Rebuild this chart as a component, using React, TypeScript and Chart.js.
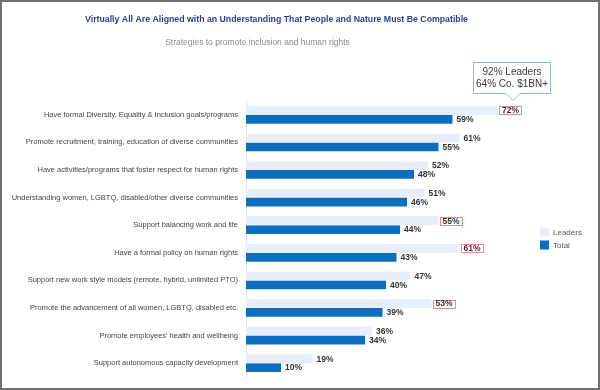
import React, { useEffect, useRef } from "react";
import { Chart, registerables } from "chart.js";

Chart.register(...registerables);

const categories = [
  "Have formal Diversity, Equality & Inclusion goals/programs",
  "Promote recruitment, training, education of diverse communities",
  "Have activities/programs that foster respect for human rights",
  "Understanding women, LGBTQ, disabled/other diverse communities",
  "Support balancing work and life",
  "Have a formal policy on human rights",
  "Support new work style models (remote, hybrid, unlimited PTO)",
  "Promote the advancement of all women, LGBTQ, disabled etc.",
  "Promote employees' health and wellbeing",
  "Support autonomous capacity development",
];
const leaders = [72, 61, 52, 51, 55, 61, 47, 53, 36, 19];
const total = [59, 55, 48, 46, 44, 43, 40, 39, 34, 10];
const highlighted = [true, false, false, false, true, true, false, true, false, false];
const seriesNames = ["Leaders", "Total"];
const titleText = "Virtually All Are Aligned with an Understanding That People and Nature Must Be Compatible";
const subtitleText = "Strategies to promote inclusion and human rights";
const calloutLines = ["92% Leaders", "64% Co. $1BN+"];

const FONT = "'Liberation Sans', Arial, Helvetica, sans-serif";
const LEADERS_COLOR = "#e7eef9";
const TOTAL_COLOR = "#0d6ebe";

const decorPlugin = {
  id: "decor",
  beforeDraw(chart: any) {
    const ctx = chart.ctx;
    ctx.save();
    ctx.fillStyle = "#ffffff";
    ctx.fillRect(0, 0, chart.width, chart.height);
    ctx.restore();
  },
  afterDatasetsDraw(chart: any) {
    const ctx = chart.ctx;
    ctx.save();
    ctx.textBaseline = "middle";
    ctx.textAlign = "left";
    ctx.font = `bold 8.5px ${FONT}`;
    chart.data.datasets.forEach((ds: any, di: number) => {
      const meta = chart.getDatasetMeta(di);
      meta.data.forEach((el: any, i: number) => {
        const txt = ds.data[i] + "%";
        const tx = el.x + 4;
        const ty = el.y + 0.5;
        if (di === 0 && highlighted[i]) {
          const w = ctx.measureText(txt).width;
          ctx.fillStyle = "#ffffff";
          ctx.fillRect(el.x + 1, el.y - 4, w + 6, 9);
          ctx.strokeStyle = "#e48a8a";
          ctx.lineWidth = 1;
          ctx.strokeRect(Math.round(el.x + 1) + 0.5, Math.round(el.y - 4) + 0.5, Math.round(w + 5), 8);
        }
        ctx.fillStyle = "#333333";
        ctx.fillText(txt, tx, ty);
      });
    });
    ctx.restore();
  },
  afterDraw(chart: any) {
    const ctx = chart.ctx;
    ctx.save();
    // frame
    ctx.strokeStyle = "#707070";
    ctx.lineWidth = 2;
    ctx.strokeRect(1, 1, chart.width - 2, chart.height - 2);
    // title
    ctx.textAlign = "center";
    ctx.textBaseline = "middle";
    ctx.fillStyle = "#2f3f8c";
    ctx.font = `bold 8.75px ${FONT}`;
    ctx.fillText(titleText, 276.5, 20);
    ctx.fillStyle = "#8a8a8a";
    ctx.font = `8.5px ${FONT}`;
    ctx.fillText(subtitleText, 257.5, 43);
    // callout
    const l = 473.5, r = 550.5, t = 62.5, b = 93.5, px = 513;
    ctx.beginPath();
    ctx.moveTo(l, t);
    ctx.lineTo(r, t);
    ctx.lineTo(r, b);
    ctx.lineTo(px + 7, b);
    ctx.lineTo(px, b + 7);
    ctx.lineTo(px - 7, b);
    ctx.lineTo(l, b);
    ctx.closePath();
    ctx.fillStyle = "#ffffff";
    ctx.fill();
    ctx.strokeStyle = "#8dbadc";
    ctx.lineWidth = 1;
    ctx.stroke();
    ctx.fillStyle = "#3a3a3a";
    ctx.font = `10px ${FONT}`;
    ctx.fillText(calloutLines[0], 512, 72.5);
    ctx.fillText(calloutLines[1], 512, 84);
    // legend
    const colors = [LEADERS_COLOR, TOTAL_COLOR];
    const ys = [232, 245];
    ctx.textAlign = "left";
    ctx.font = `8px ${FONT}`;
    seriesNames.forEach((name, i) => {
      ctx.fillStyle = colors[i];
      ctx.fillRect(540, ys[i] - 4.5, 9, 9);
      ctx.fillStyle = "#555555";
      ctx.fillText(name, 553, ys[i] + 0.5);
    });
    ctx.restore();
  },
};

export default function App() {
  const ref = useRef<HTMLCanvasElement>(null);
  useEffect(() => {
    if (!ref.current) return;
    const chart = new Chart(ref.current, {
      type: "bar",
      data: {
        labels: categories,
        datasets: [
          {
            label: seriesNames[0],
            data: leaders,
            backgroundColor: LEADERS_COLOR,
            categoryPercentage: 0.64,
            barPercentage: 1,
          },
          {
            label: seriesNames[1],
            data: total,
            backgroundColor: TOTAL_COLOR,
            categoryPercentage: 0.64,
            barPercentage: 1,
          },
        ],
      },
      options: {
        indexAxis: "y",
        responsive: false,
        animation: false,
        layout: { padding: { left: 0, right: 4, top: 101, bottom: 13 } },
        plugins: {
          legend: { display: false },
          tooltip: { enabled: false },
          title: { display: false },
        },
        scales: {
          x: { display: false, min: 0, max: 100 },
          y: {
            afterFit: (scale: any) => {
              scale.width = 246;
            },
            grid: { display: false, drawTicks: false },
            border: { display: true, color: "#e2e2e2", width: 1 },
            ticks: {
              padding: 8,
              color: "#444444",
              font: { family: FONT, size: 7.5 },
            },
          },
        },
      },
      plugins: [decorPlugin],
    });
    return () => chart.destroy();
  }, []);
  return (
    <div style={{ position: "fixed", left: 0, top: 0, width: 600, height: 390 }}>
      <canvas ref={ref} width={600} height={390} style={{ display: "block" }} />
    </div>
  );
}
